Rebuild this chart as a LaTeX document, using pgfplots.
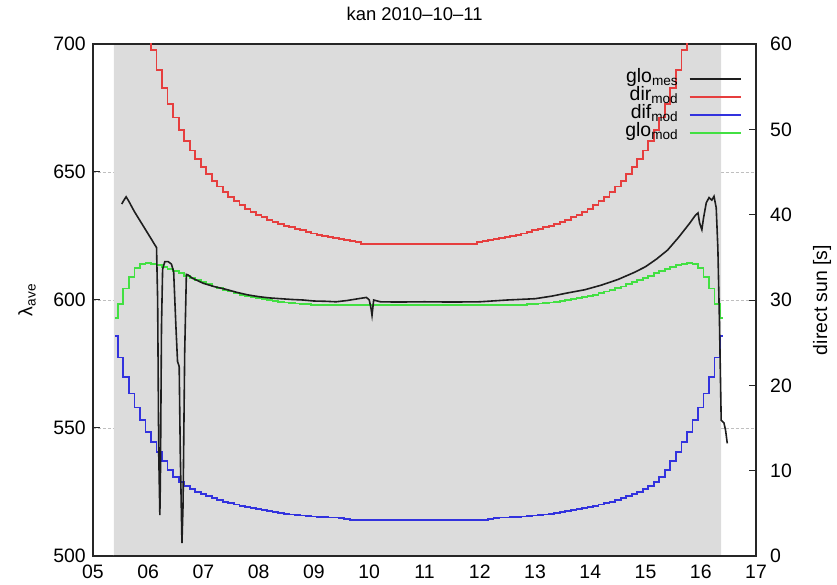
\documentclass[border=0pt]{standalone}
\usepackage{fontspec}
\setmainfont{Liberation Sans}
\usepackage{pgfplots}
\usepackage{pgfplotstable}
\pgfplotsset{compat=1.18}
\definecolor{cgray}{RGB}{220,220,220}
\definecolor{cred}{RGB}{230,62,62}
\definecolor{cblue}{RGB}{50,50,222}
\definecolor{cgreen}{RGB}{66,224,66}
\definecolor{cblack}{RGB}{30,30,30}
\newcommand\fs{\fontsize{19.5}{22}\selectfont}
\pgfplotstableread{
t red blue green
5.4 815 586 593
5.5 788 577.5 598.5
5.6 765 570 604.5
5.7 746 563.5 609
5.8 730 558 612.5
5.9 717 553 614
6.0 706.5 548.5 614.3
6.1 697.5 544.5 614.2
6.2 689.7 540.5 613.8
6.3 682.8 537 613
6.4 676.7 533.5 612.2
6.5 671.3 531 611.3
6.6 666.5 529 610.4
6.7 662.2 527.4 609.5
6.8 658.4 526.1 608.6
6.9 655 525.0 607.7
7.0 651.9 524.1 606.9
7.1 649.1 523.3 606.1
7.2 646.6 522.5 605.3
7.3 644.3 521.8 604.6
7.4 642.2 521.2 603.9
7.5 640.3 520.6 603.3
7.6 638.6 520.1 602.7
7.7 637 519.6 602.1
7.8 635.6 519.1 601.6
7.9 634.4 518.7 601.1
8.0 633.3 518.3 600.7
8.1 632.3 517.9 600.3
8.2 631.4 517.5 599.9
8.3 630.5 517.1 599.6
8.4 629.7 516.8 599.3
8.5 629 516.5 599
8.6 628.4 516.2 598.8
8.7 627.8 516.0 598.6
8.8 627.2 515.8 598.4
8.9 626.6 515.6 598.3
9.0 626 515.4 598.2
9.1 625.5 515.2 598.1
9.2 625 515.1 598
9.3 624.5 515 598
9.4 624.1 515 598
9.5 623.7 514.7 598
9.6 623.3 514.4 598
9.7 623 514 598
9.8 622.5 514 598
9.9 622 514 598
10.0 622 514 598
10.1 622 514 598
10.2 622 514 598
10.3 622 514 598
10.4 622 514 598
10.5 622 514 598
10.6 622 514 598
10.7 622 514 598
10.8 622 514 598
10.9 622 514 598
11.0 622 514 598
11.1 622 514 598
11.2 622 514 598
11.3 622 514 598
11.4 622 514 598
11.5 622 514 598
11.6 622 514 598
11.7 622 514 598
11.8 622 514 598
11.9 622 514 598
12.0 622.5 514 598
12.1 623 514 598
12.2 623.3 514.4 598
12.3 623.7 514.7 598
12.4 624.1 515 598
12.5 624.5 515 598
12.6 625 515.1 598
12.7 625.5 515.2 598.1
12.8 626 515.4 598.2
12.9 626.6 515.6 598.3
13.0 627.2 515.8 598.4
13.1 627.8 516.0 598.6
13.2 628.4 516.2 598.8
13.3 629 516.5 599
13.4 629.7 516.8 599.3
13.5 630.5 517.1 599.6
13.6 631.4 517.5 599.9
13.7 632.3 517.9 600.3
13.8 633.3 518.3 600.7
13.9 634.4 518.7 601.1
14.0 635.6 519.1 601.6
14.1 637 519.6 602.1
14.2 638.6 520.1 602.7
14.3 640.3 520.6 603.3
14.4 642.2 521.2 603.9
14.5 644.3 521.8 604.6
14.6 646.6 522.5 605.3
14.7 649.1 523.3 606.1
14.8 651.9 524.1 606.9
14.9 655 525.0 607.7
15.0 658.4 526.1 608.6
15.1 662.2 527.4 609.5
15.2 666.5 529 610.4
15.3 671.3 531 611.3
15.4 676.7 533.5 612.2
15.5 682.8 537 613
15.6 689.7 540.5 613.8
15.7 697.5 544.5 614.2
15.8 706.5 548.5 614.3
15.9 717 553 614
16.0 730 558 612.5
16.1 746 563.5 609
16.2 765 570 604.5
16.3 788 577.5 598.5
16.4 815 586 593
}\model
\pgfplotstableread{
t v
5.52 637.5
5.56 639
5.60 640.3
5.65 638.5
5.75 634.5
5.85 631
5.95 627.5
6.05 624
6.12 621.5
6.15 620.5
6.17 600
6.19 540
6.21 516
6.22 530
6.24 590
6.26 612
6.30 615
6.36 615
6.42 614
6.46 611
6.50 590
6.53 576
6.56 574
6.58 540
6.61 505
6.63 520
6.66 580
6.69 610
6.72 609.8
6.80 608.5
6.90 607.5
7.00 606.5
7.20 605.2
7.40 604.2
7.60 603
7.80 602
8.00 601.3
8.20 600.8
8.40 600.5
8.60 600.2
8.80 600
9.00 599.6
9.20 599.5
9.40 599.3
9.60 599.8
9.80 600.5
9.95 601
10.00 600
10.03 597
10.05 594
10.08 600
10.20 599.3
10.50 599.2
11.00 599.3
11.50 599.2
12.00 599.3
12.50 600
13.00 600.5
13.30 601.5
13.60 602.8
13.90 604
14.20 605.8
14.50 608
14.80 610.8
15.00 613
15.20 616
15.40 619.5
15.60 624.5
15.80 630
15.90 633
15.95 634
15.98 630
16.02 627.5
16.05 632
16.10 638
16.15 640
16.20 639
16.24 640.5
16.28 636
16.31 620
16.34 590
16.37 553
16.42 552
16.45 549
16.48 544
}\meas
\begin{document}
\begin{tikzpicture}
\path[use as bounding box] (-93bp,-29bp) rectangle (744bp,556bp);
\begin{axis}[
  at={(0,0)}, anchor=south west,
  width=663bp, height=512bp, scale only axis,
  xmin=5, xmax=17, ymin=500, ymax=700,
  xtick={5,6,...,17},
  xticklabels={05,06,07,08,09,10,11,12,13,14,15,16,17},
  xtick style={draw=none},
  ytick={500,550,...,700},
  ytick pos=left,
  tick align=inside,
  major tick length=7bp,
  ymajorgrids,
  grid style={densely dashed, black!25, line width=0.6bp},
  axis line style={line width=1.3bp, black!85},
  every tick/.style={black!85, line width=1bp},
  /pgf/number format/assume math mode=true,
  tick label style={font=\fs},
  yticklabel style={inner sep=0pt, xshift=-7bp},
  xticklabel style={inner sep=0pt, yshift=-9bp},
  title={kan 2010--10--11},
  title style={font=\fontsize{18.5}{21}\selectfont, at={(axis description cs:0.485,1)}, anchor=south, yshift=14bp},
  ylabel={λ\textsubscript{ave}},
  every axis y label/.style={at={(axis description cs:-0.0995,0.5)}, anchor=center, rotate=90, font=\fs},
  legend style={at={(axis description cs:0.983,0.953)}, anchor=north east, draw=none, fill=none, font=\fs,
    nodes={inner sep=0.5bp, text height=12bp, text depth=5bp},
    /tikz/every odd column/.append style={column sep=10bp}},
  legend cell align=right,
  legend plot pos=right,
  legend image code/.code={\draw[#1] (0bp,0bp) -- (51bp,0bp);},
]
\addplot[fill=cgray, draw=none, forget plot] coordinates {(5.38,500.4) (16.37,500.4) (16.37,699.6) (5.38,699.6)} \closedcycle;
\addlegendimage{cblack, line width=1.8bp}
\addlegendentry{glo\textsubscript{mes}}
\addplot[cred, line width=1.8bp, const plot mark mid] table[x=t, y=red] {\model};
\addlegendentry{dir\textsubscript{mod}}
\addplot[cblue, line width=1.8bp, const plot mark mid] table[x=t, y=blue] {\model};
\addlegendentry{dif\textsubscript{mod}}
\addplot[cgreen, line width=1.8bp, const plot mark mid] table[x=t, y=green] {\model};
\addlegendentry{glo\textsubscript{mod}}
\addplot[cblack, line width=1.6bp, forget plot] table[x=t, y=v] {\meas};
\end{axis}
\begin{axis}[
  at={(0,0)}, anchor=south west,
  width=663bp, height=512bp, scale only axis,
  xmin=5, xmax=17, ymin=0, ymax=60,
  axis x line=none,
  axis y line*=right,
  ytick={0,10,...,60},
  tick align=inside,
  major tick length=7bp,
  axis line style={line width=1.3bp, black!85},
  every tick/.style={black!85, line width=1bp},
  /pgf/number format/assume math mode=true,
  tick label style={font=\fs},
  yticklabel style={inner sep=0pt, xshift=14bp},
  ylabel={direct sun [s]},
  every axis y label/.style={at={(axis description cs:1.0995,0.5)}, anchor=center, rotate=90, font=\fs},
]
\addplot[draw=none] coordinates {(5,0)};
\end{axis}
\end{tikzpicture}
\end{document}
